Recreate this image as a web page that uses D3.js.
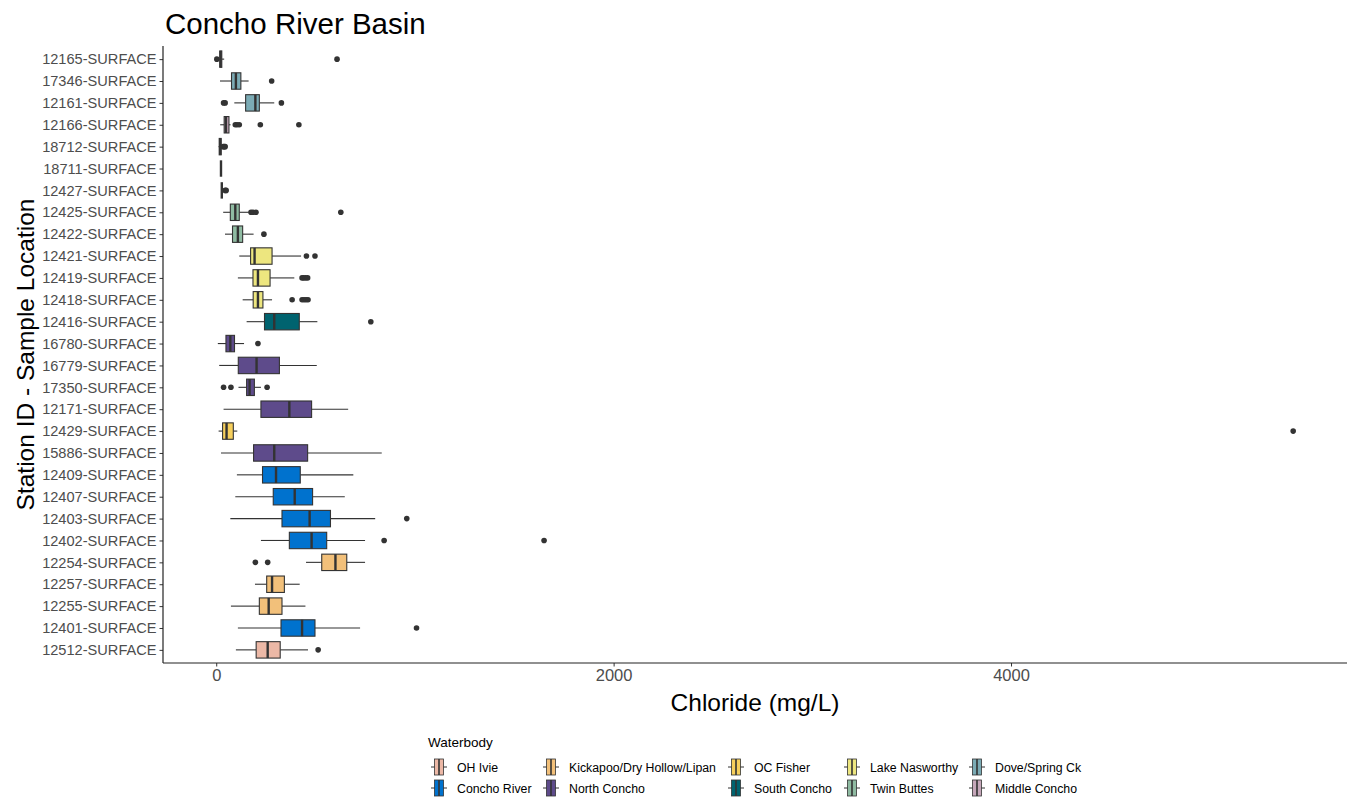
<!DOCTYPE html>
<html>
<head>
<meta charset="utf-8">
<script src="https://cdn.jsdelivr.net/npm/d3@7"></script>
<style>
  body { margin: 0; background: #fff; }
  text { font-family: "Liberation Sans", Arial, sans-serif; }
</style>
</head>
<body>
<div id="chart"></div>
<script>
// Stations, listed top to bottom as drawn
const stations = ["12165-SURFACE","17346-SURFACE","12161-SURFACE","12166-SURFACE","18712-SURFACE",
  "18711-SURFACE","12427-SURFACE","12425-SURFACE","12422-SURFACE","12421-SURFACE","12419-SURFACE",
  "12418-SURFACE","12416-SURFACE","16780-SURFACE","16779-SURFACE","17350-SURFACE","12171-SURFACE",
  "12429-SURFACE","15886-SURFACE","12409-SURFACE","12407-SURFACE","12403-SURFACE","12402-SURFACE",
  "12254-SURFACE","12257-SURFACE","12255-SURFACE","12401-SURFACE","12512-SURFACE"];

const stationBody = ["Middle Concho","Dove/Spring Ck","Dove/Spring Ck","Middle Concho","Middle Concho",
  "Middle Concho","Middle Concho","Twin Buttes","Twin Buttes","Lake Nasworthy","Lake Nasworthy",
  "Lake Nasworthy","South Concho","North Concho","North Concho","North Concho","North Concho",
  "OC Fisher","North Concho","Concho River","Concho River","Concho River","Concho River",
  "Kickapoo/Dry Hollow/Lipan","Kickapoo/Dry Hollow/Lipan","Kickapoo/Dry Hollow/Lipan","Concho River","OH Ivie"];

// box statistics (mg/L), same order as stations
const whiskerLow  = [10, 19, 91, 20, 12, 24, 28, 35, 44, 116, 109, 133, 153, 8, 15, 112, 37, 12, 24, 104, 96, 71, 225, 452, 195, 74, 109, 99];
const q1          = [18, 77, 148, 40, 15, 24, 28, 71, 82, 173, 185, 186, 243, 49, 111, 153, 225, 32, 188, 233, 287, 331, 368, 531, 254, 217, 326, 201];
const median      = [22, 99, 197, 49, 20, 24, 28, 96, 109, 193, 210, 210, 292, 71, 203, 168, 368, 52, 292, 301, 395, 470, 480, 600, 281, 264, 432, 259];
const q3          = [28, 124, 217, 64, 25, 24, 28, 116, 133, 281, 271, 235, 418, 92, 318, 192, 480, 86, 460, 423, 485, 575, 556, 657, 343, 331, 497, 322];
const whiskerHigh = [40, 163, 292, 72, 30, 24, 30, 163, 188, 427, 393, 281, 509, 140, 506, 225, 664, 106, 833, 690, 647, 800, 749, 749, 420, 449, 724, 462];
const outliers = [
  [3, 608], [279], [37, 45, 328], [96, 105, 116, 222, 416], [35, 40, 45], [], [45, 50],
  [175, 185, 200, 627], [240], [454, 497], [432, 440, 450, 460], [382, 432, 442, 452, 462], [778],
  [210], [], [37, 74, 256], [], [5420], [], [], [], [959], [845, 1650],
  [197, 259], [], [], [1008], [513]
];

// legend order and colours
const bodies = ["OH Ivie","Concho River","Kickapoo/Dry Hollow/Lipan","North Concho","OC Fisher",
  "South Concho","Lake Nasworthy","Twin Buttes","Dove/Spring Ck","Middle Concho"];
const bodyColors = ["#ECB8A6","#0072CE","#F2C07A","#5E4B8B","#F6CF5C",
  "#00636F","#EDE67F","#8FBBA2","#7BABB5","#C6A7BA"];

const xTicks = [0, 2000, 4000];

const width = 1348, height = 797;
const panel = { left: 163, right: 1347, top: 46, bottom: 663 };

const svg = d3.select("#chart").append("svg")
  .attr("width", width).attr("height", height);
svg.append("rect").attr("width", width).attr("height", height).attr("fill", "#fff");

const allVals = whiskerLow.concat(outliers.flat());
const allHi = whiskerHigh.concat(outliers.flat());
const lo = d3.min(allVals), hi = d3.max(allHi);
const pad = (hi - lo) * 0.05;
const x = d3.scaleLinear().domain([lo - pad, hi + pad]).range([panel.left, panel.right]);
const y = d3.scalePoint().domain(stations).range([panel.top, panel.bottom]).padding(0.6);
const color = d3.scaleOrdinal().domain(bodies).range(bodyColors);

const boxH = y.step() * 0.75;
const ink = "#333333";

// boxes
const g = svg.append("g");
stations.forEach((s, i) => {
  const cy = y(s);
  const row = g.append("g");
  row.append("line")
    .attr("x1", x(whiskerLow[i])).attr("x2", x(q1[i]))
    .attr("y1", cy).attr("y2", cy).attr("stroke", ink).attr("stroke-width", 1.1);
  row.append("line")
    .attr("x1", x(q3[i])).attr("x2", x(whiskerHigh[i]))
    .attr("y1", cy).attr("y2", cy).attr("stroke", ink).attr("stroke-width", 1.1);
  row.append("rect")
    .attr("x", x(q1[i])).attr("y", cy - boxH / 2)
    .attr("width", Math.max(0, x(q3[i]) - x(q1[i]))).attr("height", boxH)
    .attr("fill", color(stationBody[i])).attr("stroke", ink).attr("stroke-width", 1.1);
  row.append("line")
    .attr("x1", x(median[i])).attr("x2", x(median[i]))
    .attr("y1", cy - boxH / 2).attr("y2", cy + boxH / 2)
    .attr("stroke", ink).attr("stroke-width", 2.4);
  row.selectAll("circle").data(outliers[i]).enter().append("circle")
    .attr("cx", d => x(d)).attr("cy", cy).attr("r", 2.8).attr("fill", ink);
});

// axes
const yAxis = svg.append("g")
  .attr("transform", `translate(${panel.left},0)`)
  .call(d3.axisLeft(y).tickSize(3.5).tickPadding(3));
yAxis.select(".domain").remove();
yAxis.selectAll("line").attr("stroke", ink);
yAxis.selectAll("text").attr("fill", "#4D4D4D").attr("font-size", 14.6)
  .attr("font-family", "Liberation Sans, Arial, sans-serif");
svg.append("line").attr("x1", panel.left).attr("x2", panel.left)
  .attr("y1", panel.top).attr("y2", panel.bottom).attr("stroke", "#222").attr("stroke-width", 1.2);

const xAxis = svg.append("g")
  .attr("transform", `translate(0,${panel.bottom})`)
  .call(d3.axisBottom(x).tickValues(xTicks).tickFormat(d3.format("d")).tickSize(3.5).tickPadding(3));
xAxis.select(".domain").remove();
xAxis.selectAll("line").attr("stroke", ink);
xAxis.selectAll("text").attr("fill", "#4D4D4D").attr("font-size", 16.5)
  .attr("font-family", "Liberation Sans, Arial, sans-serif");
svg.append("line").attr("x1", panel.left).attr("x2", panel.right)
  .attr("y1", panel.bottom).attr("y2", panel.bottom).attr("stroke", "#222").attr("stroke-width", 1.2);

// titles
svg.append("text").attr("x", 165).attr("y", 34).attr("font-size", 29.5).attr("fill", "#000")
  .text("Concho River Basin");
svg.append("text").attr("x", (panel.left + panel.right) / 2).attr("y", 711)
  .attr("text-anchor", "middle").attr("font-size", 24.5).attr("fill", "#000")
  .text("Chloride (mg/L)");
svg.append("text")
  .attr("transform", `translate(34,${(panel.top + panel.bottom) / 2}) rotate(-90)`)
  .attr("text-anchor", "middle").attr("font-size", 24.5).attr("fill", "#000")
  .text("Station ID - Sample Location");

// legend: 5 columns, 2 rows, filled column-wise
const legend = svg.append("g");
legend.append("text").attr("x", 428).attr("y", 747).attr("font-size", 13.5).attr("fill", "#000")
  .text("Waterbody");
const colX = [430, 542, 727, 843, 968];
const rowY = [767, 788];
bodies.forEach((b, i) => {
  const cx = colX[Math.floor(i / 2)], cy = rowY[i % 2];
  const k = legend.append("g").attr("transform", `translate(${cx},${cy})`);
  k.append("line").attr("x1", 1).attr("x2", 17).attr("y1", 0).attr("y2", 0)
    .attr("stroke", ink).attr("stroke-width", 1);
  k.append("rect").attr("x", 4.5).attr("y", -8).attr("width", 9).attr("height", 16)
    .attr("fill", color(b)).attr("stroke", ink).attr("stroke-width", 0.8);
  k.append("line").attr("x1", 9).attr("x2", 9).attr("y1", -8).attr("y2", 8)
    .attr("stroke", ink).attr("stroke-width", 1.6);
  legend.append("text").attr("x", cx + 27).attr("y", cy + 4.5).attr("font-size", 12.3)
    .attr("fill", "#000").text(b);
});
</script>
</body>
</html>
